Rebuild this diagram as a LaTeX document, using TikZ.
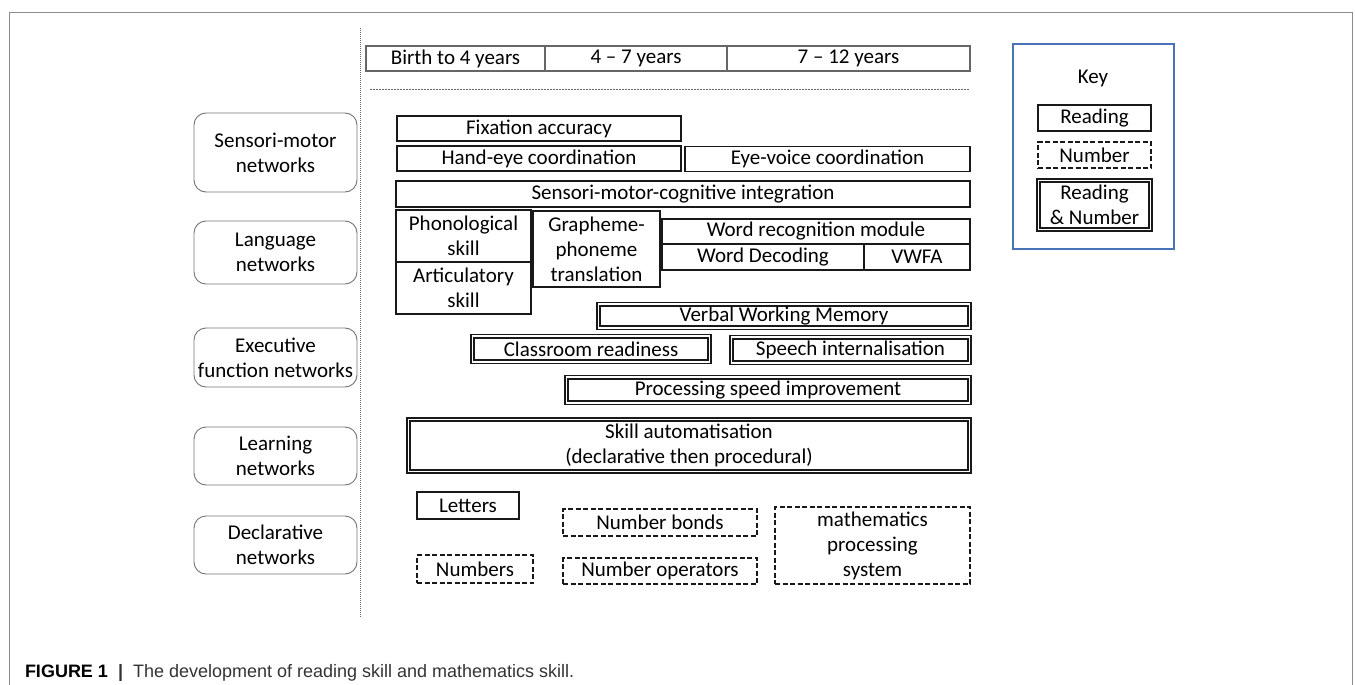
\documentclass[tikz,border=0pt]{standalone}
\usepackage{fontspec}
\setmainfont{Carlito}
\newfontfamily\captionfont{Liberation Sans}
\usetikzlibrary{positioning}

\definecolor{keyblue}{HTML}{4A72B8}
\definecolor{framegray}{HTML}{8C8C8C}

\begin{document}
\begin{tikzpicture}[
    % one unit = one pixel of the figure, y grows downwards
    x=1pt, y=-1pt,
    every node/.style={
        font=\fontsize{21}{25}\selectfont,
        align=center,
        inner sep=0pt,
        outer sep=0pt
    },
    reading/.style={draw=black!90, line width=1.7pt}, % solid box
    number/.style={draw=black!90, line width=1.7pt, dash pattern=on 5pt off 2.5pt}, % dashed box
    both/.style={draw=black!90, line width=1.4pt, double, double distance=1.8pt}, % double box
    network/.style={
        draw=black!55,
        line width=0.9pt,
        rounded corners=12pt,
        minimum width=163pt
    },
    agebox/.style={draw=black!60, line width=1.1pt, minimum height=25pt},
    row/.style={minimum height=25pt},
    sepline/.style={draw=black!60, line width=0.9pt}
]
    \useasboundingbox (0,0) rectangle (1355,685);

    % --- frame and separators ---
    \draw[framegray, line width=1pt] (9,685) -- (9,13) -- (1352,13) -- (1352,685);
    \draw[sepline, dash pattern=on 1pt off 1pt] (360,28) -- (360,617);
    \draw[sepline, dash pattern=on 2pt off 1pt] (370,89) -- (969,89);

    % --- age bands ---
    \node[agebox, minimum width=179pt] (birth) at (455.5,58.5) {Birth to 4 years};
    \node[agebox, minimum width=182pt] (fourseven) [right=0pt of birth] {4 -- 7 years};
    \node[agebox, minimum width=243pt] (seventwelve) [right=0pt of fourseven] {7 -- 12 years};

    % --- networks ---
    \node[network, minimum height=79pt] (sensori) at (275.5,152.5) {Sensori-motor\\networks};
    \node[network, minimum height=63pt] (language) at (275.5,252.5) {Language\\networks};
    \node[network, minimum height=59pt] (executive) at (275.5,357.5) {Executive\\function networks};
    \node[network, minimum height=58pt] (learning) at (275.5,456) {Learning\\networks};
    \node[network, minimum height=58pt] (declarative) at (275.5,545) {Declarative\\networks};

    % --- sensori-motor ---
    \node[reading, row, minimum width=284pt] (fixation) at (539,128.5) {Fixation accuracy};
    \node[reading, row, minimum width=284pt] (handeye) at (539,158.5) {Hand-eye coordination};
    \node[reading, row, minimum width=285pt] (eyevoice) at (827.5,159) {Eye-voice coordination};
    \node[reading, minimum width=574pt, minimum height=26pt] (integration) at (683,194) {Sensori-motor-cognitive integration};

    % --- language ---
    \node[reading, minimum width=135pt, minimum height=52pt] (phonological) at (463.5,236) {Phonological\\skill};
    \node[reading, minimum width=135pt, minimum height=52pt] (articulatory) [below=0pt of phonological] {Articulatory\\skill};
    \node[reading, minimum width=127pt, minimum height=76pt] (grapheme) at (596.5,249) {Grapheme-\\phoneme\\translation};
    \node[reading, row, minimum width=308pt] (wordrec) at (816,231.5) {Word recognition module};
    \node[reading, minimum width=202pt, minimum height=26pt] (decoding) at (763,257) {Word Decoding};
    \node[reading, minimum width=106pt, minimum height=26pt] (vwfa) [right=0pt of decoding] {VWFA};

    % --- executive function ---
    \node[both, minimum width=371pt, minimum height=23.5pt] (verbalwm) at (784,316) {Verbal Working Memory};
    \node[both, minimum width=237pt, minimum height=25.5pt] (classroom) at (591,349) {Classroom readiness};
    \node[both, minimum width=238pt, minimum height=25.5pt] (speech) at (850.5,350) {Speech internalisation};
    \node[both, minimum width=403pt, minimum height=25.5pt] (procspeed) at (768,390) {Processing speed improvement};

    % --- learning ---
    \node[both, minimum width=561pt, minimum height=52pt] (automatisation) at (689,445.5) {Skill automatisation\\(declarative then procedural)};

    % --- declarative ---
    \node[reading, minimum width=102pt, minimum height=27pt] (letters) at (468,505.5) {Letters};
    \node[number, minimum width=116pt, minimum height=28pt] (numbers) at (475,569) {Numbers};
    \node[number, minimum width=194pt, minimum height=27pt] (bonds) at (660,522.5) {Number bonds};
    \node[number, minimum width=194pt, minimum height=26pt] (operators) at (660,571) {Number operators};
    \node[number, minimum width=195pt, minimum height=77pt] (mathsystem) at (872.5,545.5) {mathematics\\processing\\system};

    % --- key ---
    \node[draw=keyblue, line width=1.4pt, minimum width=161pt, minimum height=205pt] (key) at (1093.5,146.5) {};
    \node (keytitle) at (1093,78) {Key};
    \node[reading, minimum width=113pt, minimum height=26pt] (keyreading) at (1094.5,118) {Reading};
    \node[number, minimum width=113pt, minimum height=26pt] (keynumber) at (1094.5,155) {Number};
    \node[both, minimum width=112pt, minimum height=49pt] (keyboth) at (1094.5,205) {Reading\\\& Number};

    % --- caption ---
    \node[anchor=base west, font=\captionfont\fontsize{18}{20}\selectfont, text=black!80] (caption) at (25,677)
        {\textcolor{black}{\textbf{FIGURE 1}}\hspace{10pt}\textbf{|}\hspace{10pt}The development of reading skill and mathematics skill.};

\end{tikzpicture}
\end{document}
